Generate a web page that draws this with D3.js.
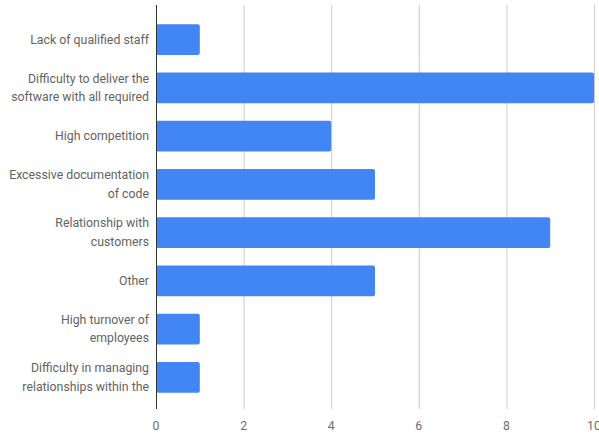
<!DOCTYPE html>
<html>
<head>
<meta charset="utf-8">
<script src="https://cdn.jsdelivr.net/npm/d3@7"></script>
<style>
  body { margin: 0; background: #fff; }
  svg { display: block; font-family: Roboto, sans-serif; }
</style>
</head>
<body>
<svg width="599" height="437"></svg>
<script>
const categories = [
  ["Lack of qualified staff"],
  ["Difficulty to deliver the", "software with all required"],
  ["High competition"],
  ["Excessive documentation", "of code"],
  ["Relationship with", "customers"],
  ["Other"],
  ["High turnover of", "employees"],
  ["Difficulty in managing", "relationships within the"]
];
const values = [1, 10, 4, 5, 9, 5, 1, 1];
const ticks = [0, 2, 4, 6, 8, 10];

const svg = d3.select("svg");
const x0 = 156, x1 = 594, yTop = 5, yBottom = 409;

const scaleX = d3.scaleLinear().domain([0, 10]).range([x0, x1]);
const scaleY = d3.scaleBand()
  .domain(d3.range(categories.length))
  .range([15.5, 401.5])
  .paddingInner(0.36)
  .paddingOuter(0.18);

// gridlines
svg.append("g")
  .selectAll("line")
  .data(ticks.filter(t => t > 0))
  .enter()
  .append("line")
  .attr("x1", d => scaleX(d) + 0.5)
  .attr("x2", d => scaleX(d) + 0.5)
  .attr("y1", yTop)
  .attr("y2", yBottom)
  .attr("stroke", "#cccccc")
  .attr("stroke-width", 1);

// bars
svg.append("g")
  .selectAll("rect")
  .data(values)
  .enter()
  .append("rect")
  .attr("x", scaleX(0))
  .attr("y", (d, i) => scaleY(i))
  .attr("width", d => scaleX(d) - scaleX(0))
  .attr("height", scaleY.bandwidth())
  .attr("rx", 2)
  .attr("fill", "#4285f4");

// zero axis
svg.append("line")
  .attr("x1", scaleX(0) + 0.5)
  .attr("x2", scaleX(0) + 0.5)
  .attr("y1", yTop)
  .attr("y2", yBottom)
  .attr("stroke", "#333333")
  .attr("stroke-width", 1);

// x tick labels
svg.append("g")
  .selectAll("text")
  .data(ticks)
  .enter()
  .append("text")
  .attr("x", d => scaleX(d))
  .attr("y", 430)
  .attr("text-anchor", "middle")
  .attr("font-size", 12.3)
  .attr("fill", "#6e6e6e")
  .text(d => d);

// category labels
const lineH = 18.5;
categories.forEach((lines, i) => {
  const cy = scaleY(i) + scaleY.bandwidth() / 2;
  const t = svg.append("text")
    .attr("text-anchor", "end")
    .attr("font-size", 12.3)
    .attr("fill", "#636363");
  lines.forEach((ln, j) => {
    t.append("tspan")
      .attr("x", 149)
      .attr("y", cy + 4 + (j - (lines.length - 1) / 2) * lineH)
      .text(ln);
  });
});
</script>
</body>
</html>
